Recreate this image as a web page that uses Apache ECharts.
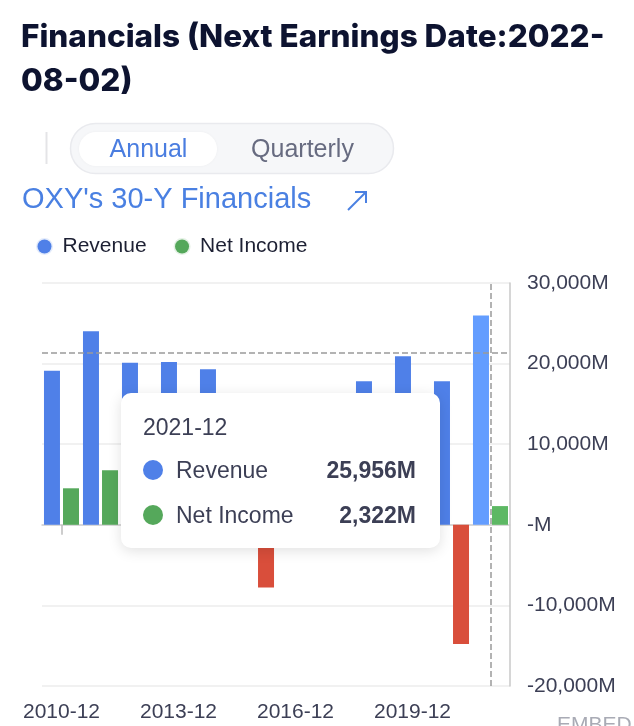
<!DOCTYPE html>
<html>
<head>
<meta charset="utf-8">
<script src="https://cdn.jsdelivr.net/npm/echarts@6/dist/echarts.min.js"></script>
<style>
html,body{margin:0;padding:0;background:#ffffff;}
#c{width:634px;height:726px;}
</style>
</head>
<body>
<div id="c"></div>
<script>
// ---- data (values in millions USD) ----
const categories = ['2010-12','2011-12','2012-12','2013-12','2014-12','2015-12','2016-12','2017-12','2018-12','2019-12','2020-12','2021-12'];
const revenue   = [19100, 24000, 20100, 20200, 19300, 12500, 10100, 12500, 17800, 20900, 17800, 25956];
const netIncome = [4530, 6770, 4600, 5900, 620, -7780, -570, 1310, 4130, -670, -14800, 2322];
const yTicks = [-20000, -10000, 0, 10000, 20000, 30000];
const tipIndex = 11;

const BLUE = '#4f80e8', BLUE_HL = '#5a8ff3', GREEN = '#55a85b', RED = '#d94e3b';
const TXT = '#3c3f55';

function fmtM(v){
  if (v === 0) return '-M';
  return v.toLocaleString('en-US') + 'M';
}

const chart = echarts.init(document.getElementById('c'), null, {renderer:'canvas'});

const revData = revenue.map((v,i)=> i===tipIndex ? {value:v, itemStyle:{color:BLUE_HL}} : v);

const option = {
  animation: false,
  textStyle: {fontFamily: 'Liberation Sans, Arial, sans-serif'},
  grid: {left: 42, right: 124, top: 283, bottom: 40, containLabel: false},
  legend: {
    left: 31, top: 231, selectedMode: false,
    icon: 'circle', itemWidth: 14, itemHeight: 14, itemGap: 27,
    textStyle: {fontSize: 21, color: '#1d2033', padding: [0,0,0,6]},
    data: [
      {name:'Revenue', itemStyle:{color:BLUE, borderColor:'rgba(79,128,232,0.16)', borderWidth:3}},
      {name:'Net Income', itemStyle:{color:GREEN, borderColor:'rgba(85,168,91,0.16)', borderWidth:3}}
    ]
  },
  tooltip: {
    trigger: 'axis',
    alwaysShowContent: true,
    transitionDuration: 0,
    backgroundColor: '#ffffff',
    borderWidth: 0,
    padding: 0,
    extraCssText: 'border-radius:10px;box-shadow:0 3px 14px rgba(0,0,0,0.12);',
    axisPointer: {
      type: 'cross',
      label: {show: false},
      crossStyle: {color: '#9a9a9a', type: 'dashed', width: 1.5},
      lineStyle: {color: '#9a9a9a', type: 'dashed', width: 1.5}
    },
    position: function(){ return [121, 393]; },
    formatter: function(params){
      const idx = params[0].dataIndex;
      const f = 'font-family:Liberation Sans,Arial,sans-serif;';
      let h = '<div style="position:relative;width:319px;height:155px;'+f+'color:'+TXT+';">';
      h += '<div style="position:absolute;left:22px;top:21px;font-size:23px;line-height:26px;">'+categories[idx]+'</div>';
      const rows = [
        {name:'Revenue', color:BLUE, v:revenue[idx], top:64},
        {name:'Net Income', color:GREEN, v:netIncome[idx], top:109}
      ];
      rows.forEach(r=>{
        h += '<div style="position:absolute;left:22px;top:'+(r.top+3)+'px;width:20px;height:20px;border-radius:10px;background:'+r.color+';"></div>';
        h += '<div style="position:absolute;left:55px;top:'+r.top+'px;font-size:23px;line-height:26px;">'+r.name+'</div>';
        h += '<div style="position:absolute;right:24px;top:'+r.top+'px;font-size:23px;line-height:26px;font-weight:bold;">'+fmtM(r.v)+'</div>';
      });
      h += '</div>';
      return h;
    }
  },
  xAxis: [
    {
      type: 'category', data: categories, position: 'bottom',
      axisLine: {show: false, onZero: false},
      axisTick: {show: false},
      axisLabel: {interval: 2, fontSize: 21, color: TXT, margin: 16},
      splitLine: {show: false}
    },
    {
      type: 'category', data: categories, position: 'bottom',
      axisLine: {show: true, onZero: true, lineStyle: {color: '#cfcfcf', width: 1.5}},
      axisTick: {show: true, interval: 2, alignWithLabel: true, length: 10, lineStyle: {color: '#bdbdbd', width: 1.5}},
      axisLabel: {show: false},
      axisPointer: {show: false}
    }
  ],
  yAxis: {
    type: 'value', position: 'right',
    min: -20000, max: 30000, interval: 10000,
    axisLine: {show: true, lineStyle: {color: '#c9c9c9', width: 1.5}},
    axisTick: {show: false},
    splitLine: {lineStyle: {color: '#ececec', width: 1.5}},
    axisLabel: {fontSize: 21, color: TXT, margin: 17, formatter: fmtM}
  },
  series: [
    {name: 'Revenue', type: 'bar', xAxisIndex: 0, data: revData, barWidth: 16, barGap: '19%',
     itemStyle: {color: BLUE}},
    {name: 'Net Income', type: 'bar', xAxisIndex: 0, data: netIncome, barWidth: 16,
     itemStyle: {color: function(p){ return p.value < 0 ? RED : GREEN; }}}
  ],
  graphic: [
    {type:'text', left: 21, top: 22, style:{text:'Financials (Next Earnings Date:2022-', fontSize: 31.5, fontWeight: 800, fontFamily:'Inter, Liberation Sans, sans-serif', fill:'#0d1330'}},
    {type:'text', left: 21, top: 66, style:{text:'08-02)', fontSize: 31.5, fontWeight: 800, fontFamily:'Inter, Liberation Sans, sans-serif', fill:'#0d1330'}},
    {type:'line', shape:{x1:46.5, y1:132, x2:46.5, y2:164}, style:{stroke:'#e4e4e7', lineWidth:2}},
    {type:'rect', shape:{x:70.5, y:123.5, width:323, height:50, r:25}, style:{fill:'#f6f7f9', stroke:'#e9eaee', lineWidth:1.5}},
    {type:'rect', shape:{x:79, y:132, width:138, height:34, r:17}, style:{fill:'#ffffff', shadowColor:'rgba(0,0,0,0.04)', shadowBlur:3}},
    {type:'text', style:{x:148.5, y:150, text:'Annual', fontSize:25, fill:'#4a7de0', align:'center', verticalAlign:'middle', fontFamily:'Liberation Sans, Arial, sans-serif'}},
    {type:'text', style:{x:302.5, y:150, text:'Quarterly', fontSize:25, fill:'#676b80', align:'center', verticalAlign:'middle', fontFamily:'Liberation Sans, Arial, sans-serif'}},
    {type:'text', style:{x:22, y:200, text:"OXY's 30-Y Financials", fontSize:29, fill:'#4a80e2', verticalAlign:'middle', fontFamily:'Liberation Sans, Arial, sans-serif'}},
    {type:'polyline', shape:{points:[[348,210],[366,192]]}, style:{stroke:'#4a80e2', lineWidth:2, fill:null}},
    {type:'polyline', shape:{points:[[355,192],[366,192],[366,203]]}, style:{stroke:'#4a80e2', lineWidth:2, fill:null}},
    {type:'text', style:{x:557, y:715, text:'EMBED', fontSize:21, fill:'#a9abb5', fontFamily:'Liberation Sans, Arial, sans-serif'}}
  ]
};

chart.setOption(option);
chart.dispatchAction({type:'showTip', x: 491, y: 353});
</script>
</body>
</html>
